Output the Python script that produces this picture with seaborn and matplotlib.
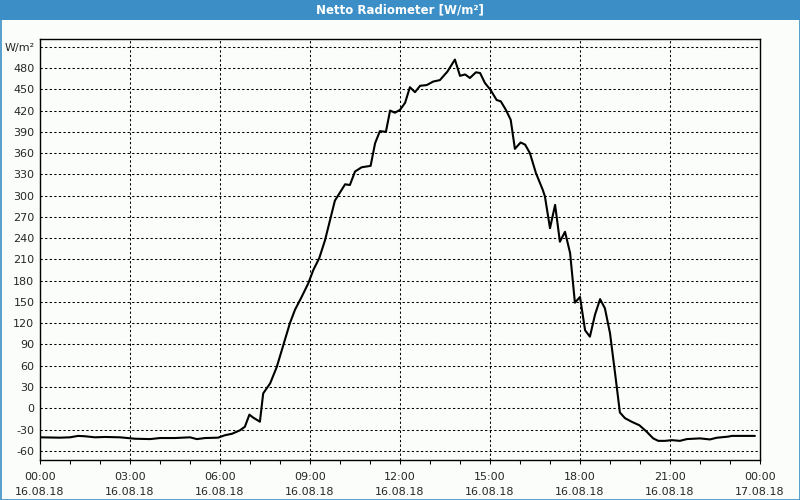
import matplotlib
matplotlib.use("Agg")
import matplotlib.pyplot as plt
import matplotlib.patches as mpatches
import seaborn as sns
import pandas as pd
import numpy as np

# ---- data (hours since 16.08.18 00:00, W/m²) ----
hours = [0.0, 0.67, 1.0, 1.27, 1.5, 1.83, 2.17, 2.67, 3.17, 3.67, 4.0, 4.5, 5.0, 5.23,
         5.5, 5.93, 6.17, 6.4, 6.67, 6.83, 6.98, 7.1, 7.33, 7.44, 7.67, 7.89, 8.11,
         8.33, 8.5, 8.72, 8.94, 9.11, 9.31, 9.5, 9.83, 10.17, 10.33, 10.5, 10.72,
         11.02, 11.17, 11.33, 11.53, 11.67, 11.83, 12.0, 12.17, 12.33, 12.5, 12.67,
         12.89, 13.11, 13.33, 13.58, 13.83, 14.0, 14.17, 14.33, 14.53, 14.67, 14.83,
         15.02, 15.22, 15.36, 15.53, 15.69, 15.83, 16.02, 16.17, 16.33, 16.53, 16.76,
         16.83, 17.0, 17.17, 17.33, 17.5, 17.67, 17.83, 18.0, 18.17, 18.33, 18.5,
         18.67, 18.83, 19.0, 19.17, 19.33, 19.5, 19.72, 19.98, 20.22, 20.44, 20.61,
         20.83, 21.06, 21.33, 21.56, 22.0, 22.33, 22.56, 22.94, 23.06, 23.83]
values = [-41, -41.5, -41, -39, -39.5, -41, -40.5, -41, -43, -43.5, -42, -42, -41, -43.5,
          -42, -41.5, -38, -36, -31, -26, -9, -13, -19, 21, 35, 58, 89,
          120, 139, 157, 176, 195, 212, 237, 293, 316, 315, 334, 340,
          342, 374, 391, 390, 420, 417, 421, 431, 453, 446, 455,
          456, 461, 463, 475, 492, 469, 471, 466, 474, 473, 459,
          449, 435, 433, 421, 407, 366, 375, 372, 360, 332, 308,
          299, 254, 287, 235, 249, 219, 149, 157, 110, 101, 132,
          154, 141, 106, 49, -6, -14, -19, -24, -33, -42.5, -46,
          -46, -45, -46, -43.5, -42.5, -44, -41.6, -40, -39, -39]

x_ticks = [0, 3, 6, 9, 12, 15, 18, 21, 24]
x_labels = ["00:00\n16.08.18", "03:00\n16.08.18", "06:00\n16.08.18", "09:00\n16.08.18",
            "12:00\n16.08.18", "15:00\n16.08.18", "18:00\n16.08.18", "21:00\n16.08.18",
            "00:00\n17.08.18"]
y_ticks = list(range(-60, 511, 30))
y_labels = [str(v) for v in y_ticks[:-1]] + ["W/m²"]
title = "Netto Radiometer [W/m²]"

df = pd.DataFrame({"hour": hours, "value": values})

sns.set_style("white")
plt.rcParams["font.family"] = ["DejaVu Sans"]

bg = "#fbfdfb"
blue = "#3c8fc6"
fig = plt.figure(figsize=(8, 5), dpi=100, facecolor=bg)
ax = fig.add_axes([40 / 800, 40 / 500, 720 / 800, 421 / 500])
ax.set_facecolor(bg)

sns.lineplot(data=df, x="hour", y="value", ax=ax, color="black", linewidth=1.5)

ax.set_xlim(0, 24)
ax.set_ylim(-73, 521)
ax.set_xticks(x_ticks)
ax.set_xticklabels(x_labels, fontsize=8, linespacing=1.55)
ax.set_xticks(range(0, 25), minor=True)
ax.set_yticks(y_ticks)
ax.set_yticklabels(y_labels, fontsize=8)
ax.set_xlabel("")
ax.set_ylabel("")

dash = (0, (2.2, 2.2))
ax.grid(True, which="major", color="black", linestyle=dash, linewidth=0.75)
ax.tick_params(axis="x", which="both", direction="out", length=3, width=0.75,
               color="black", pad=6, bottom=True)
ax.tick_params(axis="y", which="both", length=0, pad=4, left=True)
for s in ax.spines.values():
    s.set_visible(True)
    s.set_color("black")
    s.set_linewidth(1.0)

# title bar
fig.patches.append(mpatches.Rectangle((0, 480 / 500), 1, 20 / 500, transform=fig.transFigure,
                                      facecolor=blue, edgecolor="none", zorder=0))
fig.patches.append(mpatches.Rectangle((0.5 / 800, 0.5 / 500), 799 / 800, 499 / 500,
                                      transform=fig.transFigure, facecolor="none",
                                      edgecolor=blue, linewidth=1.2, zorder=1))
fig.text(0.5, 490 / 500, title, color="white", fontsize=8.5, fontweight="bold",
         ha="center", va="center")

fig.savefig("out.png", dpi=100, facecolor=bg)
